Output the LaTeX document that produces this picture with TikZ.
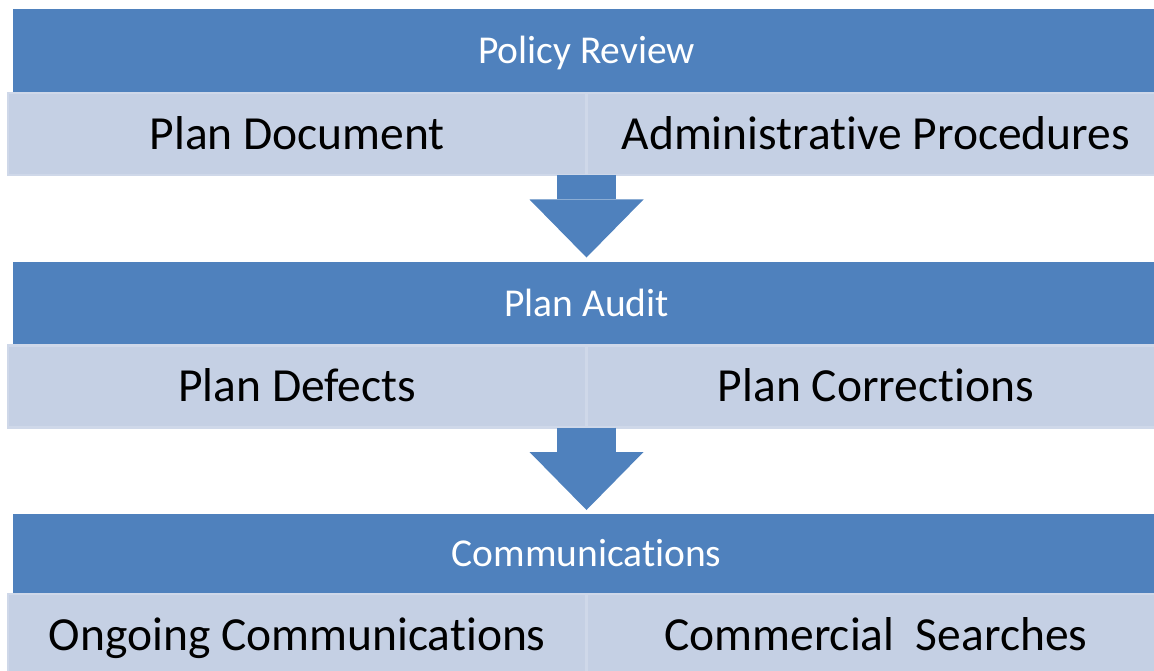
\documentclass[tikz,border=0pt]{standalone}
\usepackage{fontspec}
\setmainfont{Carlito}[Ligatures=NoCommon]
\usetikzlibrary{arrows.meta}
\definecolor{headblue}{HTML}{4F81BD}
\definecolor{itemblue}{HTML}{C5D0E4}
\definecolor{itemedge}{HTML}{CFD8E9}

\begin{document}
\begin{tikzpicture}[x=1pt,y=-1pt,
  head/.style={fill=headblue,text=white,anchor=north west,inner sep=0,outer sep=0,
    minimum width=1147pt,minimum height=84pt,text height=25.5pt,text depth=0pt,
    font=\fontsize{39.5}{47}\selectfont},
  item/.style={fill=itemblue,draw=itemedge,line width=2.5pt,anchor=north west,inner sep=0,outer sep=0,
    minimum width=578.5pt,minimum height=82pt,text height=30.5pt,text depth=0pt,
    font=\fontsize{47.5}{56}\selectfont},
  flow/.style={headblue,line width=59pt,shorten >=4pt,
    -{Triangle[length=58pt,width=114pt,line width=0pt]}}]
\pgfmathsetmacro{\colb}{586.5}
\path[use as bounding box,clip] (0,0) rectangle (1154,671);
% first stage
\node[head] (review) at (13,9) {Policy Review};
\node[item] (doc) at (8,93) {Plan Document};
\node[item] (proc) at (\colb,93) {Administrative Procedures};
% second stage
\node[head] (audit) at (13,261.5) {Plan Audit};
\node[item] (defects) at (8,345.5) {Plan Defects};
\node[item] (fixes) at (\colb,345.5) {Plan Corrections};
% third stage
\node[head,minimum height=80pt] (comms) at (13,514) {Communications};
\node[item] (ongoing) at (8,594) {Ongoing Communications};
\node[item] (searches) at (\colb,594) {Commercial\ \ Searches};
% arrows between stages
\draw[flow] (doc.south east) -- (audit.north);
\draw[flow] (defects.south east) -- (comms.north);
\end{tikzpicture}
\end{document}
